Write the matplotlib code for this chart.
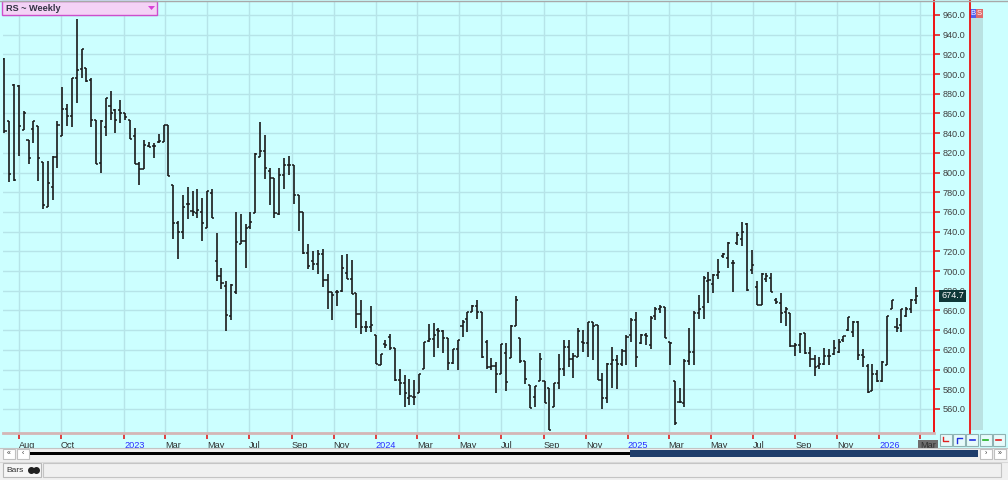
import numpy as np
import pandas as pd
import matplotlib
matplotlib.use('Agg')
import matplotlib.pyplot as plt
import matplotlib.dates as mdates
import matplotlib.transforms as mtrans
from matplotlib.patches import Rectangle, Polygon

plt.rcParams['font.family'] = ['Liberation Sans', 'DejaVu Sans']

# weekly bars, RS ~ Weekly
opens = [915, 852, 889, 888, 843, 833, 844, 847, 811, 765, 785, 816, 837, 865, 857, 896, 905, 906, 894, 853,
         810, 846, 868, 864, 864, 860, 853, 837, 809, 804, 827, 827, 831, 831, 848, 787, 749, 740, 768, 761,
         759, 760, 744, 779, 710, 695, 685, 654, 679, 727, 731, 745, 759, 816, 822, 802, 794, 758, 798, 808,
         808, 777, 760, 718, 710, 707, 717, 691, 679, 679, 680, 698, 692, 678, 656, 643, 643, 635, 605, 626,
         633, 622, 589, 586, 571, 572, 576, 601, 629, 631, 640, 639, 632, 607, 621, 644, 651, 658, 665, 658,
         628, 603, 604, 595, 617, 612, 644, 632, 609, 584, 572, 588, 588, 581, 562, 586, 601, 623, 611, 613,
         628, 627, 648, 645, 589, 571, 606, 610, 606, 619, 635, 650, 627, 635, 625, 654, 661, 664, 628, 588,
         567, 566, 609, 618, 657, 664, 690, 687, 696, 715, 713, 708, 728, 733, 748, 701, 684, 666, 692, 693,
         671, 668, 658, 657, 624, 625, 637, 617, 611, 604, 606, 614, 616, 618, 630, 640, 638, 648, 615, 604,
         578, 596, 588, 605, 661, 643, 645, 654, 661, 671]
highs = [916, 852, 890, 889, 863, 833, 852, 847, 811, 812, 817, 852, 887, 870, 896, 956, 925, 906, 896, 853,
         853, 876, 883, 865, 874, 860, 853, 845, 811, 833, 831, 830, 839, 848, 848, 787, 751, 777, 785, 781,
         783, 774, 781, 783, 739, 703, 690, 687, 760, 758, 748, 760, 820, 851, 838, 805, 794, 805, 815, 817,
         808, 777, 760, 727, 720, 721, 722, 697, 679, 681, 716, 717, 711, 678, 671, 649, 665, 635, 616, 630,
         636, 622, 601, 594, 590, 589, 596, 628, 646, 647, 642, 640, 632, 621, 630, 650, 658, 666, 671, 658,
         630, 612, 608, 626, 627, 645, 675, 632, 609, 584, 583, 617, 588, 581, 586, 616, 630, 630, 617, 642,
         640, 648, 648, 645, 597, 607, 623, 615, 621, 635, 652, 658, 636, 637, 654, 664, 666, 664, 628, 588,
         581, 611, 642, 659, 676, 695, 699, 697, 712, 718, 730, 711, 740, 750, 749, 721, 690, 698, 698, 698,
         673, 678, 664, 657, 627, 637, 637, 623, 615, 613, 622, 621, 630, 631, 634, 653, 649, 649, 621, 606,
         606, 600, 609, 654, 671, 652, 662, 664, 672, 684]
lows = [840, 790, 791, 817, 843, 809, 830, 791, 763, 765, 772, 805, 837, 847, 846, 871, 896, 892, 846, 809,
        800, 837, 853, 840, 850, 853, 834, 809, 787, 804, 826, 815, 830, 831, 797, 733, 712, 733, 753, 756,
        754, 731, 744, 754, 690, 682, 639, 650, 677, 727, 703, 743, 759, 816, 793, 767, 754, 757, 783, 798,
        768, 741, 717, 702, 701, 697, 684, 661, 650, 665, 679, 692, 677, 642, 636, 638, 638, 606, 605, 622,
        620, 588, 574, 562, 564, 564, 576, 601, 628, 613, 622, 617, 600, 606, 600, 633, 638, 658, 651, 612,
        601, 600, 576, 595, 578, 612, 644, 607, 585, 561, 562, 588, 566, 539, 562, 580, 593, 603, 591, 613,
        618, 613, 610, 589, 560, 566, 581, 580, 604, 605, 628, 603, 626, 625, 621, 650, 657, 632, 605, 544,
        566, 562, 605, 605, 651, 651, 668, 678, 692, 713, 703, 679, 726, 725, 680, 697, 666, 666, 689, 679,
        667, 647, 644, 623, 614, 617, 616, 603, 593, 601, 605, 605, 615, 617, 628, 639, 633, 610, 603, 576,
        578, 587, 587, 605, 661, 638, 638, 653, 657, 667]
closes = [842, 799, 792, 847, 860, 815, 852, 815, 767, 789, 816, 848, 865, 857, 896, 904, 925, 893, 853, 809,
          852, 876, 860, 853, 860, 856, 834, 809, 804, 828, 826, 827, 832, 848, 797, 749, 740, 765, 768, 760,
          762, 749, 781, 754, 695, 688, 655, 686, 730, 731, 744, 750, 819, 822, 805, 794, 759, 798, 808, 808,
          777, 760, 718, 705, 707, 717, 691, 679, 676, 679, 703, 692, 677, 656, 643, 643, 645, 606, 616, 625,
          622, 589, 586, 576, 573, 572, 596, 628, 631, 635, 639, 632, 607, 621, 630, 648, 658, 665, 658, 613,
          603, 604, 595, 626, 587, 644, 671, 609, 590, 561, 583, 611, 566, 539, 586, 601, 623, 611, 614, 639,
          627, 648, 644, 589, 571, 606, 610, 606, 619, 633, 650, 613, 635, 634, 652, 661, 664, 632, 627, 546,
          567, 609, 618, 657, 661, 693, 691, 696, 699, 717, 728, 708, 737, 740, 681, 706, 666, 697, 695, 679,
          669, 657, 662, 624, 625, 636, 617, 611, 603, 606, 614, 614, 622, 628, 634, 653, 648, 615, 613, 577,
          596, 588, 608, 654, 671, 642, 661, 661, 671, 674.7]
last_week = '2026-02-23'

y_ticks = list(range(560, 961, 20))
x_tick_dates = ['2022-08-01', '2022-10-01', '2023-01-01', '2023-03-01', '2023-05-01', '2023-07-01',
                '2023-09-01', '2023-11-01', '2024-01-01', '2024-03-01', '2024-05-01', '2024-07-01',
                '2024-09-01', '2024-11-01', '2025-01-01', '2025-03-01', '2025-05-01', '2025-07-01',
                '2025-09-01', '2025-11-01', '2026-01-01', '2026-03-01']
x_tick_labels = ['Aug', 'Oct', '2023', 'Mar', 'May', 'Jul', 'Sep', 'Nov', '2024', 'Mar', 'May', 'Jul',
                 'Sep', 'Nov', '2025', 'Mar', 'May', 'Jul', 'Sep', 'Nov', '2026', 'Mar']

dates = pd.date_range(end=last_week, periods=len(closes), freq='W-MON')
x = mdates.date2num(dates)

W, H = 1008, 480
fig = plt.figure(figsize=(W / 100, H / 100), dpi=100, facecolor='#ccffff')

def box(x0, y0, w, h):
    return [x0 / W, 1 - (y0 + h) / H, w / W, h / H]

ax = fig.add_axes(box(3, 1, 931, 432), facecolor='#ccffff')

# bars
bar_col = '#1a1a1a'
ax.vlines(x, lows, highs, color=bar_col, lw=1.2, zorder=3)
ax.hlines(opens, x - 3, x, color=bar_col, lw=1.1, zorder=3)
ax.hlines(closes, x, x + 3, color=bar_col, lw=1.1, zorder=3)

ref = mdates.date2num(pd.Timestamp('2023-01-01'))
ax.set_xlim(ref - 176.1, ref + 1175.4)
ax.set_ylim(535.6, 974.2)

xt = mdates.date2num(pd.to_datetime(x_tick_dates))
ax.set_xticks(xt)
ax.set_xticklabels(x_tick_labels)
for lbl in ax.get_xticklabels():
    lbl.set_ha('left')
    lbl.set_fontsize(6.6)
    lbl.set_color('#2a2aff' if lbl.get_text().isdigit() else '#303030')
last_lbl = ax.get_xticklabels()[-1]
last_lbl.set_bbox(dict(facecolor='#6e6e6e', edgecolor='none', pad=1.3))

ax.yaxis.tick_right()
ax.set_yticks(y_ticks)
ax.set_yticklabels(['%.1f' % v for v in y_ticks])
ax.tick_params(axis='y', length=4, width=1.2, color='#e02020', labelcolor='#404040',
               labelsize=6.6, pad=2)
ax.tick_params(axis='x', length=4, width=1.2, color='#e02020', pad=2)
ax.grid(True, color='#b6e4e8', lw=1, zorder=0)
ax.set_axisbelow(True)

for s in ['top', 'left']:
    ax.spines[s].set_visible(False)
ax.spines['right'].set_color('#ee1111')
ax.spines['right'].set_linewidth(1.4)
ax.spines['bottom'].set_color('#d4b6b6')
ax.spines['bottom'].set_linewidth(2)

# last price tag
tr = mtrans.blended_transform_factory(ax.transAxes, ax.transData)
ax.text(1 + 7 / 931, closes[-1], '%.1f' % closes[-1], transform=tr, color='white', fontsize=6.6,
        va='center', ha='left', clip_on=False, zorder=6,
        bbox=dict(facecolor='#0e3838', edgecolor='none', pad=1.3))

# overlay in pixel coordinates for the window decorations
ov = fig.add_axes([0, 0, 1, 1], zorder=5)
ov.set_xlim(0, W)
ov.set_ylim(H, 0)
ov.axis('off')
ov.patch.set_alpha(0)

ov.add_patch(Rectangle((969.5, 18), 13.5, 412, facecolor='#b9e2e2', edgecolor='none'))
ov.plot([969.5, 969.5], [0, 433], color='#ee1111', lw=1.3)
ov.add_patch(Rectangle((970, 9), 6, 9, facecolor='#5060ee', edgecolor='none'))
ov.add_patch(Rectangle((976, 9), 7, 9, facecolor='#e06a6a', edgecolor='none'))
ov.text(973, 13.5, 'B', color='white', fontsize=5.5, ha='center', va='center')
ov.text(979.5, 13.5, 'S', color='white', fontsize=5.5, ha='center', va='center')
ov.plot([0, W], [0.5, 0.5], color='#a8a8a8', lw=1)

# title box
ov.add_patch(Rectangle((2, 1), 155, 14, facecolor='#f4d2f6', edgecolor='#cc4fcc', lw=1))
ov.text(6, 8.3, 'RS ~ Weekly', fontsize=6.6, fontweight='bold', color='#333344', va='center')
ov.add_patch(Polygon([[148, 6], [155, 6], [151.5, 10]], closed=True, facecolor='#d840d8', edgecolor='none'))

# icons right of the date axis
icon_cols = ['#e02020', '#2030e0', '#2030e0', '#20b020', '#e02020']
for i, c in enumerate(icon_cols):
    x0 = 940 + i * 13.2
    ov.add_patch(Rectangle((x0, 434), 12, 12, facecolor='#e6fbfb', edgecolor='#8fb3b3', lw=0.8))
    if i == 0:
        ov.plot([x0 + 3, x0 + 3, x0 + 8], [437, 441, 441], color=c, lw=1)
    elif i == 1:
        ov.plot([x0 + 4, x0 + 4, x0 + 9], [443, 438, 438], color=c, lw=1)
    else:
        ov.plot([x0 + 3.5, x0 + 8.5], [440, 440], color=c, lw=1.2)

# scroll bar row
ov.add_patch(Rectangle((0, 447.5), W, 13, facecolor='#efefef', edgecolor='none'))
ov.plot([0, W], [447.5, 447.5], color='#c4c4c4', lw=0.8)
for x0, g in [(3, '«'), (17, '‹'), (980, '›'), (994, '»')]:
    ov.add_patch(Rectangle((x0, 449), 11.5, 10, facecolor='white', edgecolor='#c0c0c0', lw=0.8))
    ov.text(x0 + 5.75, 453.5, g, fontsize=5, ha='center', va='center', color='#303030')
ov.add_patch(Rectangle((30, 452), 600, 3, facecolor='black', edgecolor='none'))
ov.add_patch(Rectangle((630, 450), 348, 7, facecolor='#1f3d6b', edgecolor='none'))

# bottom panel
ov.add_patch(Rectangle((0, 461), W, 19, facecolor='#f0f0f0', edgecolor='none'))
ov.plot([0, W], [461.5, 461.5], color='#d8d8d8', lw=0.8)
ov.add_patch(Rectangle((3, 463), 38, 14, facecolor='#f6f6f6', edgecolor='#b8b8b8', lw=0.8))
ov.text(6, 470.5, 'Bars', fontsize=6, color='#303030', va='center')
ov.plot([31, 36], [470, 470], 'o', color='#202020', ms=4)
ov.add_patch(Rectangle((43, 463), 958, 14, facecolor='#f0f0f0', edgecolor='#c4c4c4', lw=0.8))

fig.savefig('out.png', dpi=100, facecolor=fig.get_facecolor())
